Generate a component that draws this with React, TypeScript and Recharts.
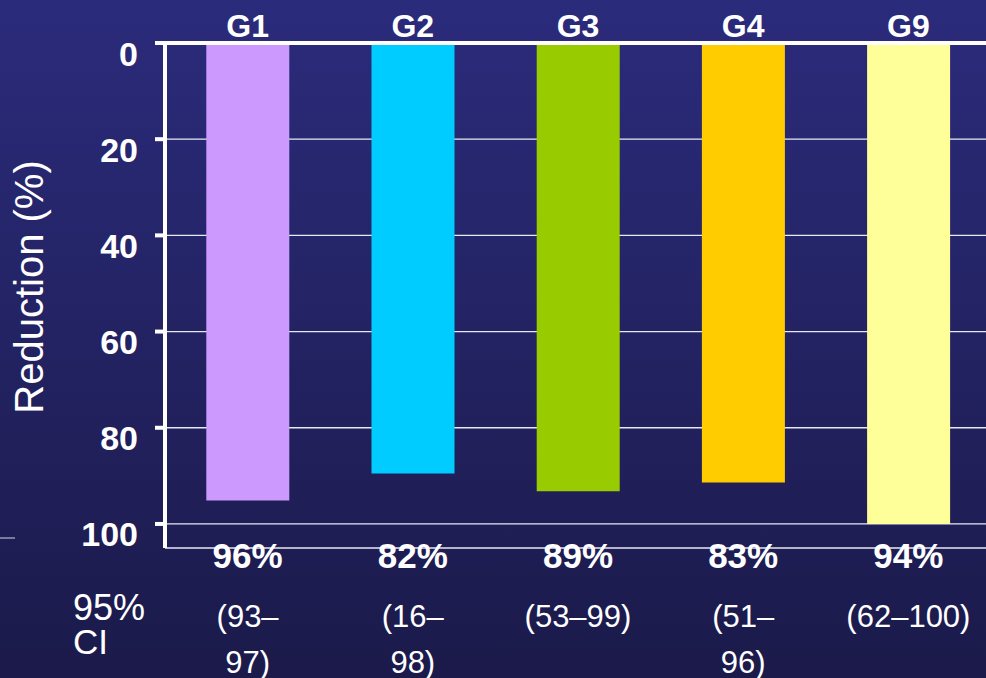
import React from 'react';
import { BarChart, Bar, XAxis, YAxis, CartesianGrid, Cell } from 'recharts';

const categories = ['G1', 'G2', 'G3', 'G4', 'G9'];
const reductions = [95.1, 89.5, 93.2, 91.4, 100];
const efficacyLabels = ['96%', '82%', '89%', '83%', '94%'];
const ciLabels = [['(93–', '97)'], ['(16–', '98)'], ['(53–99)'], ['(51–', '96)'], ['(62–100)']];
const barColors = ['#CC99FF', '#00CCFF', '#99CC00', '#FFCC00', '#FFFF99'];
const yTicks = [0, 20, 40, 60, 80, 100];

const data = categories.map((name, i) => ({ name, value: reductions[i] }));

const FONT = '"Liberation Sans", Arial, sans-serif';

const YTick = (props: any) => {
  const { x, y, payload } = props;
  return (
    <text x={x} y={y + 22.5} textAnchor="end" fill="#FFFFFF" fontFamily={FONT} fontWeight="bold" fontSize={34}>
      {payload.value}
    </text>
  );
};

const TopTick = (props: any) => {
  const { x, y, payload } = props;
  return (
    <text x={x} y={y - 6} textAnchor="middle" fill="#FFFFFF" fontFamily={FONT} fontWeight="bold" fontSize={32}>
      {payload.value}
    </text>
  );
};

const BottomTick = (props: any) => {
  const { x, y, index } = props;
  const lines = ciLabels[index] || [];
  return (
    <g>
      <text x={x} y={y + 20} textAnchor="middle" fill="#FFFFFF" fontFamily={FONT} fontWeight="bold" fontSize={35}>
        {efficacyLabels[index]}
      </text>
      {lines.map((t, k) => (
        <text key={k} x={x} y={y + 79 + k * 46} textAnchor="middle" fill="#FFFFFF" fontFamily={FONT} fontSize={31}>
          {t}
        </text>
      ))}
    </g>
  );
};

export default function App() {
  return (
    <div
      style={{
        position: 'fixed',
        left: 0,
        top: 0,
        width: 986,
        height: 678,
        overflow: 'hidden',
        background: 'linear-gradient(to bottom, #2B2B7C 0%, #1B1A4A 100%)',
      }}
    >
      <BarChart
        width={991}
        height={678}
        data={data}
        margin={{ top: 13, right: 0, bottom: 0, left: 0 }}
        barCategoryGap="25%"
      >
        <CartesianGrid horizontal vertical={false} stroke="#E8E8F4" strokeWidth={1.3} />
        <Bar dataKey="value" isAnimationActive={false}>
          {data.map((d, i) => (
            <Cell key={d.name} fill={barColors[i]} />
          ))}
        </Bar>
        <YAxis
          type="number"
          domain={[0, 105]}
          reversed
          ticks={yTicks}
          interval={0}
          width={165}
          tickSize={10}
          tickMargin={17}
          axisLine={{ stroke: '#FFFFFF', strokeWidth: 4 }}
          tickLine={{ stroke: '#FFFFFF', strokeWidth: 4 }}
          tick={<YTick />}
        />
        <XAxis
          dataKey="name"
          orientation="top"
          height={30}
          tickSize={0}
          tickMargin={0}
          axisLine={{ stroke: '#FFFFFF', strokeWidth: 4 }}
          tickLine={false}
          tick={<TopTick />}
          interval={0}
        />
        <XAxis
          xAxisId="bottom"
          dataKey="name"
          orientation="bottom"
          height={130}
          tickSize={0}
          tickMargin={0}
          axisLine={false}
          tickLine={false}
          tick={<BottomTick />}
          interval={0}
        />
      </BarChart>
      <svg
        width={986}
        height={678}
        style={{ position: 'absolute', left: 0, top: 0, pointerEvents: 'none' }}
      >
        <text
          x={43}
          y={287}
          transform="rotate(-90, 43, 287)"
          textAnchor="middle"
          fill="#FFFFFF"
          fontFamily={FONT}
          fontSize={40}
        >
          Reduction (%)
        </text>
        <line x1={0} y1={538} x2={15} y2={538} stroke="#9A9AB8" strokeWidth={1.5} />
        <text x={73} y={620} fill="#FFFFFF" fontFamily={FONT} fontSize={36}>
          95%
        </text>
        <text x={73} y={654} fill="#FFFFFF" fontFamily={FONT} fontSize={35}>
          CI
        </text>
      </svg>
    </div>
  );
}
